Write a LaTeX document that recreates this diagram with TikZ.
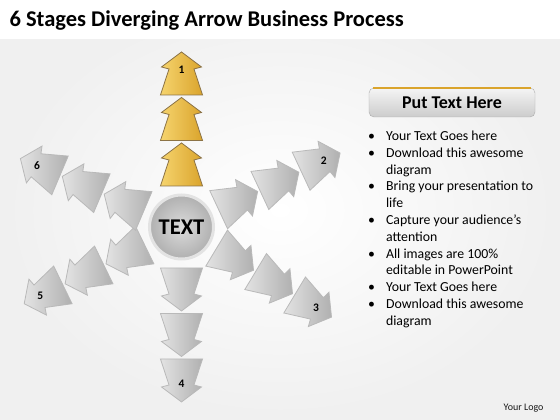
\documentclass[tikz,border=0pt]{standalone}
\usepackage{fontspec}
\setmainfont{Carlito}
\usetikzlibrary{calc}
\definecolor{goldA}{RGB}{246,212,110}
\definecolor{goldB}{RGB}{218,164,44}
\definecolor{goldEdge}{RGB}{140,115,70}
\tikzset{
  greyarrow/.style={draw=gray!55, line width=0.8pt, left color=gray!22, right color=gray!62},
  goldarrow/.style={draw=goldEdge, line width=0.8pt, left color=goldA, right color=goldB},
  stagenum/.style={font=\bfseries\fontsize{11.5}{12}\selectfont},
}
\begin{document}
\begin{tikzpicture}[x=1pt,y=1pt]
    \useasboundingbox (0,0) rectangle (560,420);
    \shade[inner color=white, outer color=gray!12] (0,0) rectangle (560,420);
    \fill[white] (0,381) rectangle (560,420);
    \node[font=\bfseries\fontsize{22.5}{26}\selectfont, anchor=base west] (title) at (6,393) {6 Stages Diverging Arrow Business Process};
    % arrows
    \coordinate (c) at (181.5,193);
    \foreach \a/\s in {90/goldarrow,25/greyarrow,-31/greyarrow,-90/greyarrow,-154/greyarrow,157/greyarrow}
      \foreach \d in {41,86.5,132}
        \path[\s, shift={(c)}, rotate=\a] (\d,21) -- ({\d+26},12.5) -- ({\d+28},20) -- ({\d+43},0)
          -- ({\d+28},-20) -- ({\d+26},-12.5) -- (\d,-21) -- cycle;
    \node[circle, minimum size=64, inner color=gray!28, outer color=gray!62, draw=gray!22, line width=3pt,
      font=\bfseries\fontsize{22.5}{22}\selectfont] (ctr) at (c) {TEXT};
    \foreach \a/\n in {90/1,25/2,-31/3,-90/4,-154/5,157/6}
      \node[stagenum] (s\n) at ($(c)+(\a:157)$) {\n};
    % text panel
    \node[rounded corners=5, minimum width=166, minimum height=29, top color=gray!8, bottom color=gray!40,
      draw=gray!65, font=\bfseries\fontsize{18}{20}\selectfont] (head) at (452,317.5) {Put Text Here};
    \draw[goldB, line width=1.5pt] ([xshift=4]head.north west) -- ([xshift=-4]head.north east);
    \node[anchor=north west, inner sep=0, font=\fontsize{13.8}{16.8}\selectfont] (list) at (368,291.5) {%
      \begin{tabular}{@{}l@{\hspace{11pt}}l@{}}
      • & Your Text Goes here\\
      • & Download this awesome\\
        & diagram\\
      • & Bring your presentation to\\
        & life\\
      • & Capture your audience’s\\
        & attention\\
      • & All images are 100\%\\
        & editable in PowerPoint\\
      • & Your Text Goes here\\
      • & Download this awesome\\
        & diagram
      \end{tabular}};
    \node[font=\fontsize{10}{12}\selectfont, text=gray!20!black, anchor=east] (logo) at (547,12) {Your Logo};
\end{tikzpicture}
\end{document}
